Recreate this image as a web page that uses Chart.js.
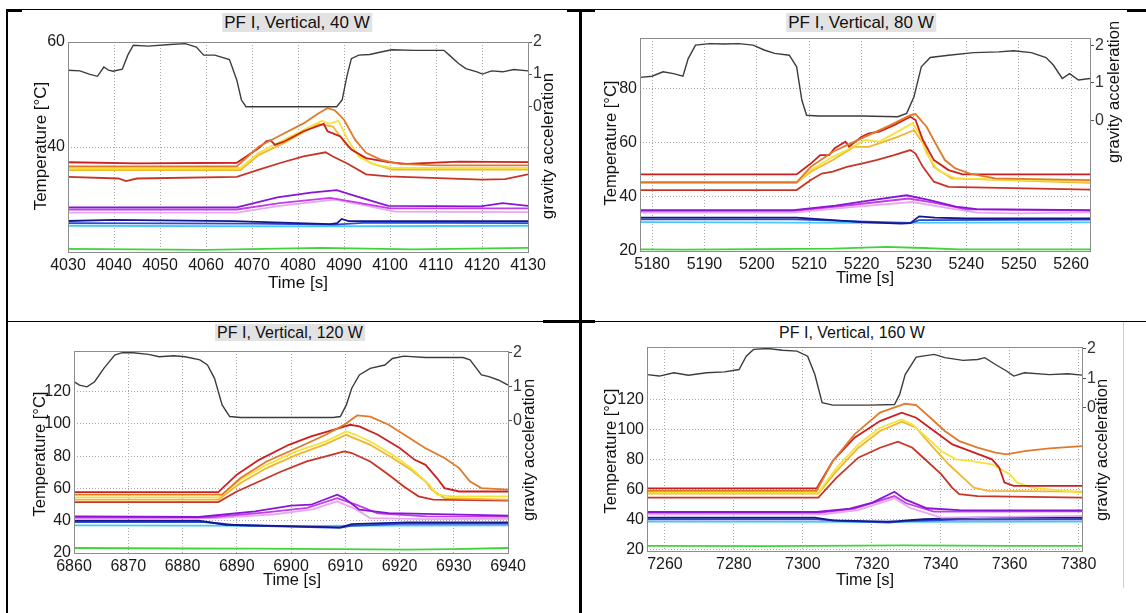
<!DOCTYPE html>
<html>
<head>
<meta charset="utf-8">
<script src="https://cdn.jsdelivr.net/npm/chart.js@4.4.1/dist/chart.umd.min.js"></script>
<style>
  body { margin: 0; background: #fff; width: 1146px; height: 613px; overflow: hidden; position: relative;
         font-family: "Liberation Sans", Arial, sans-serif; }
  canvas { position: absolute; }
  .rule { position: absolute; background: #000; }
  .ttl { position: absolute; white-space: nowrap; transform: translateX(-50%); color: #111; padding: 0 2px; }
  .ttl.box { background: #e2e2e2; }
</style>
</head>
<body>
<div class="rule" style="left:7px;top:9px;width:1139px;height:1px"></div>
<div class="rule" style="left:7px;top:9px;width:15px;height:3px"></div>
<div class="rule" style="left:567px;top:9px;width:28px;height:3px"></div>
<div class="rule" style="left:1127px;top:9px;width:19px;height:3px"></div>
<div class="rule" style="left:7px;top:321px;width:1139px;height:1px"></div>
<div class="rule" style="left:543px;top:320px;width:52px;height:3px"></div>
<div class="rule" style="left:6px;top:9px;width:2px;height:604px"></div>
<div class="rule" style="left:579px;top:9px;width:3px;height:604px"></div>
<div class="rule" style="left:1123px;top:322px;width:1px;height:266px;background:#cfcfcf"></div>

<div class="ttl box" style="left:297px;top:13px;font-size:17px;line-height:19px">PF I, Vertical, 40 W</div>
<div class="ttl box" style="left:861px;top:13px;font-size:17px;line-height:19px">PF I, Vertical, 80 W</div>
<div class="ttl box" style="left:290px;top:324px;font-size:16px;line-height:17px">PF I, Vertical, 120 W</div>
<div class="ttl" style="left:852px;top:324px;font-size:16px;line-height:17px">PF I, Vertical, 160 W</div>

<canvas id="c40"></canvas>
<canvas id="c80"></canvas>
<canvas id="c120"></canvas>
<canvas id="c160"></canvas>

<script>
// ---- 40 W ----
const xTicks40 = [4030, 4040, 4050, 4060, 4070, 4080, 4090, 4100, 4110, 4120, 4130];
const tTicks40 = [40, 60];
const g40 = [[4030,1.12],[4032.6,1.10],[4034.6,1.0],[4036.4,0.93],[4037.8,1.22],[4038.8,1.12],[4039.8,1.09],[4041.8,1.15],[4043.0,1.59],[4044.2,1.90],[4047.4,1.87],[4052.2,1.92],[4055.5,1.95],[4057.9,1.84],[4059.5,1.59],[4061.9,1.59],[4065.1,1.45],[4066.7,0.81],[4067.7,0.19],[4068.7,-0.02],[4079.6,-0.02],[4088.4,-0.02],[4089.6,0.19],[4090.6,0.91],[4091.6,1.48],[4093.2,1.59],[4095.6,1.61],[4098.8,1.71],[4100.4,1.76],[4105.3,1.74],[4111.7,1.74],[4112.9,1.59],[4114.9,1.33],[4116.5,1.17],[4118.9,1.07],[4120.1,1.0],[4122.1,1.10],[4124.5,1.07],[4126.9,1.14],[4130,1.10]];
const orange40 = [[4030,36.3],[4066.7,36.3],[4071.5,40.1],[4076.3,42.3],[4081.2,44.5],[4084.4,46.4],[4086.4,47.4],[4088,47.0],[4090,45.2],[4092.4,41.4],[4094.8,38.9],[4098,37.6],[4102,36.8],[4110,36.5],[4130,36.5]];
const red40 = [[4030,37.1],[4045,36.9],[4066.7,37.0],[4071.5,39.8],[4073.1,41.1],[4074,41.3],[4075,40.4],[4077.1,41.1],[4081.2,43.0],[4085.6,44.4],[4086.4,43.0],[4087.6,42.6],[4089.2,42.0],[4091.6,39.5],[4094.8,37.9],[4099.6,37.1],[4103.6,36.8],[4115,37.2],[4130,37.1]];
const yellow40 = [[4030,36.0],[4067.5,36.0],[4071.5,38.9],[4076.3,41.1],[4082,43.6],[4085.2,45.0],[4086.8,44.4],[4088.8,45.0],[4090.8,41.4],[4093.2,38.2],[4096.4,36.7],[4100.4,36.0],[4130,36.0]];
const gold40 = [[4030,35.6],[4067.5,35.6],[4071.5,38.5],[4077.1,40.8],[4084.4,44.4],[4087.6,43.9],[4090.8,40.1],[4095.6,37.0],[4100.4,35.7],[4130,35.7]];
const darkRed40 = [[4030,34.3],[4041,34.0],[4042.6,33.5],[4045,34.0],[4066.7,34.3],[4071.5,35.7],[4076.3,37.0],[4081.2,38.2],[4086,39.0],[4087.6,38.2],[4090.8,36.8],[4094.8,34.8],[4099.6,34.4],[4120,33.8],[4125,33.9],[4130,34.8]];
const violet40 = [[4030,28.5],[4066.7,28.5],[4075.5,30.4],[4082.8,31.3],[4088.4,31.8],[4092.4,30.7],[4099.6,28.8],[4119.7,28.7],[4124.5,29.3],[4130,28.8]];
const magenta40 = [[4030,28.1],[4066.7,28.1],[4076,29.3],[4087,30.3],[4093,29.4],[4100,28.3],[4130,28.3]];
const pink40 = [[4030,27.5],[4066.7,27.5],[4076,28.8],[4088,30.0],[4094,29.0],[4101,27.7],[4130,27.6]];
const navy40 = [[4030,25.9],[4040,26.1],[4066,25.9],[4080,25.5],[4087,25.3],[4088.5,25.5],[4089.5,26.3],[4091,25.9],[4130,25.9]];
const blue40 = [[4030,25.5],[4070,25.4],[4088,25.2],[4095,25.6],[4130,25.5]];
const cyan40 = [[4030,25.0],[4080,24.9],[4130,25.0]];
const green40 = [[4030,20.6],[4060,20.4],[4085,20.8],[4105,20.5],[4130,20.8]];

// ---- 80 W ----
const xTicks80 = [5180, 5190, 5200, 5210, 5220, 5230, 5240, 5250, 5260];
const tTicks80 = [20, 40, 60, 80];
const g80 = [[5177.7,1.14],[5180,1.17],[5182.1,1.29],[5184.1,1.24],[5185.9,1.17],[5186.9,1.64],[5188.3,2.0],[5191,2.04],[5193.8,2.03],[5196.6,2.04],[5199.3,2.0],[5201.4,1.87],[5203.4,1.78],[5206.2,1.73],[5207.6,1.42],[5208.6,0.53],[5209.5,0.13],[5211.7,0.11],[5220,0.11],[5226.9,0.09],[5228.6,0.18],[5230,0.62],[5231.4,1.42],[5233.1,1.67],[5236.6,1.73],[5241.4,1.80],[5246.2,1.82],[5249,1.85],[5252.4,1.80],[5255.2,1.67],[5256.6,1.47],[5258.3,1.11],[5259.7,1.24],[5261.4,1.07],[5263.6,1.11]];
const orange80 = [[5177.7,45.4],[5207.6,45.4],[5210.3,51.1],[5214.5,56.7],[5220,61.6],[5225.5,66.5],[5229.3,70.2],[5230.3,70.6],[5232.4,65.9],[5234.1,59.8],[5235.9,53.6],[5237.9,50.5],[5240.7,48.6],[5245.5,46.8],[5263.6,46.2]];
const red80 = [[5177.7,48.3],[5207.6,48.3],[5210.3,52.3],[5212.1,55.4],[5213.8,55.4],[5214.8,57.9],[5216.9,60.4],[5217.6,58.5],[5220,62.2],[5221.4,63.5],[5223.4,64.1],[5226.2,66.5],[5229.3,69.6],[5230.3,68.4],[5231.7,61.0],[5233.8,53.6],[5236.6,49.9],[5239.3,48.3],[5263.6,48.3]];
const yellow80 = [[5177.7,45.4],[5207.6,45.4],[5210.3,49.9],[5214.5,54.8],[5217.2,57.3],[5220.7,61.0],[5223.4,60.4],[5226.9,64.1],[5229.7,67.2],[5231,63.5],[5232.4,56.0],[5234.5,49.9],[5237.9,46.8],[5263.6,45.6]];
const gold80 = [[5177.7,45.2],[5207.6,45.2],[5210.3,49.3],[5214.5,53.6],[5218.6,58.5],[5221.4,58.5],[5226.9,62.2],[5230,64.7],[5231.7,59.8],[5233.8,51.1],[5237.2,46.8],[5263.6,45.2]];
const darkRed80 = [[5177.7,42.5],[5207.6,42.5],[5210.3,46.2],[5212.4,48.6],[5214.5,49.3],[5217.2,51.1],[5220,52.3],[5222.8,53.6],[5226.2,55.4],[5229.3,57.3],[5230.3,56.0],[5231.7,51.1],[5233.8,45.6],[5236.6,43.7],[5263.6,42.7]];
const violet80 = [[5177.7,35.1],[5207,35.1],[5215,36.8],[5222,38.8],[5228.6,40.6],[5233,38.8],[5238,36.4],[5242,35.5],[5263.6,35.1]];
const magenta80 = [[5177.7,34.8],[5207,34.8],[5218,37.0],[5229,39.4],[5234,37.8],[5240,35.4],[5263.6,34.9]];
const pink80 = [[5177.7,34.2],[5207,34.2],[5218,36.2],[5229.7,38.1],[5236,36.0],[5242,34.2],[5250,33.9],[5263.6,34.3]];
const navy80 = [[5177.7,32.3],[5207.6,32.3],[5220,30.7],[5227.6,30.1],[5229.3,30.3],[5231,32.8],[5234,32.3],[5240,32.0],[5263.6,32.0]];
const blue80 = [[5177.7,31.7],[5207,31.7],[5227,30.5],[5229.5,30.4],[5231,31.4],[5263.6,31.6]];
const cyan80 = [[5177.7,30.7],[5220,30.4],[5263.6,30.6]];
const green80 = [[5177.7,20.6],[5186,20.5],[5214.5,20.9],[5224.8,21.5],[5231.7,21.1],[5238.6,20.6],[5263.6,20.6]];

// ---- 120 W ----
const xTicks120 = [6860, 6870, 6880, 6890, 6900, 6910, 6920, 6930, 6940];
const tTicks120 = [20, 40, 60, 80, 100, 120];
const g120 = [[6860,1.15],[6861,1.05],[6862.4,1.0],[6863.8,1.15],[6865.5,1.54],[6867.5,1.93],[6868.9,2.0],[6870.9,2.0],[6873.7,1.95],[6875.7,1.88],[6878.4,1.91],[6880.5,1.88],[6883.2,1.79],[6884.6,1.64],[6885.9,1.25],[6887.3,0.47],[6888.7,0.13],[6890.7,0.10],[6901,0.10],[6907.8,0.10],[6909.1,0.13],[6910.2,0.47],[6911.2,0.96],[6912.6,1.35],[6914.6,1.54],[6917.3,1.64],[6918.7,1.83],[6920.8,1.90],[6924.8,1.86],[6931.7,1.86],[6933,1.79],[6935.1,1.35],[6936.5,1.30],[6938.2,1.20],[6940,1.05]];
const orange120 = [[6860,56.1],[6887.3,56.1],[6890.7,66.4],[6895.5,76.7],[6901,84.9],[6906.4,93.2],[6909.8,99.4],[6912.2,105.2],[6914.6,104.5],[6918,99.4],[6921.4,92.2],[6924.8,84.9],[6928.3,78.8],[6931,72.6],[6933,64.3],[6935.1,60.2],[6940,59.2]];
const red120 = [[6860,57.7],[6886.6,57.7],[6890,68.5],[6894.1,77.7],[6899.6,87],[6903.7,92.2],[6907.8,96.3],[6910.9,99.4],[6912.6,98.4],[6916,93.2],[6920.1,84.9],[6922.8,77.7],[6924.8,74.6],[6926.9,66.4],[6928.3,60.2],[6931,58.1],[6940,58.1]];
const yellow120 = [[6860,54.4],[6886.6,54.4],[6890.7,65.4],[6895.5,74.6],[6901,82.9],[6906.4,89.1],[6910.2,95.3],[6911.9,93.2],[6914.6,89.1],[6918.7,80.8],[6922.1,72.6],[6924.2,66.4],[6925.5,62.3],[6926.9,56.1],[6929.7,55.1],[6940,55.1]];
const gold120 = [[6860,53],[6886.6,53],[6890.7,63.3],[6895.5,72.6],[6901,80.8],[6906.4,87.4],[6910.2,93.2],[6914.6,87],[6918.7,78.8],[6922.1,71.5],[6924.8,64.3],[6925.9,59.2],[6928.3,54],[6940,53]];
const darkRed120 = [[6860,51.5],[6886.6,51.5],[6890,58.1],[6894.1,64.3],[6898.2,70.5],[6902.9,76.7],[6906.4,79.8],[6909.8,82.9],[6911.2,81.9],[6914.6,76.7],[6918,68.5],[6920.8,61.2],[6923.5,55.1],[6926.2,53],[6940,52.4]];
const violet120 = [[6860,42.7],[6883,42.3],[6893.4,45.8],[6900,49.3],[6903.7,49.9],[6908.5,56.1],[6909.8,54],[6912.6,46.8],[6918,44.7],[6940,43.1]];
const magenta120 = [[6860,42.1],[6885,42.1],[6895,45],[6903,48],[6908.5,54],[6912,50],[6916,44.5],[6925,42.7],[6940,42.5]];
const pink120 = [[6860,41.6],[6886,41.6],[6897,44],[6904,47],[6908.5,52],[6912,47],[6914.6,41.6],[6925,41.0],[6940,41.2]];
const navy120 = [[6860,40],[6883,40],[6888,37.5],[6901,36.5],[6909.1,35.9],[6911.2,37.9],[6921.4,39],[6940,39]];
const blue120 = [[6860,39.2],[6884,39.2],[6890,37.2],[6909,35.6],[6911,36.8],[6920,38],[6940,38.2]];
const cyan120 = [[6860,37.1],[6900,36.8],[6940,37.1]];
const green120 = [[6860,23.1],[6880,22.8],[6894.1,22.7],[6921.4,22.1],[6930,22.4],[6940,23.1]];

// ---- 160 W ----
const xTicks160 = [7260, 7280, 7300, 7320, 7340, 7360, 7380];
const tTicks160 = [20, 40, 60, 80, 100, 120];
const g160 = [[7254.8,1.12],[7258.4,1.07],[7262.6,1.18],[7266.8,1.10],[7272.1,1.18],[7277.3,1.21],[7281.5,1.29],[7283.6,1.74],[7285.7,1.97],[7289.9,2.0],[7294.1,1.94],[7298.3,1.91],[7301.4,1.74],[7303.5,1.12],[7305.6,0.17],[7308.7,0.09],[7319.2,0.09],[7326.6,0.11],[7328.1,0.45],[7329.7,1.12],[7332.9,1.71],[7338.1,1.80],[7341.2,1.69],[7346.5,1.60],[7350.7,1.63],[7352.8,1.69],[7355.9,1.46],[7359.1,1.24],[7361.2,1.07],[7364.3,1.18],[7371.6,1.12],[7376.9,1.15],[7381,1.10]];
const orange160 = [[7254.8,59.2],[7304,59.2],[7308.7,79.1],[7315,96.8],[7322.4,111.2],[7329.7,117.1],[7332.9,116.2],[7337,107.8],[7341.2,99],[7345.4,92.3],[7350.7,87.9],[7355.9,84.6],[7359.1,83.5],[7364.3,85.7],[7371.6,87.5],[7381,89]];
const red160 = [[7254.8,60.9],[7304,60.9],[7308.7,79.1],[7315,94.6],[7322.4,105.6],[7328.7,111.2],[7332.9,107.8],[7338.1,99],[7343.4,90.1],[7348.6,85.7],[7354.9,80.2],[7357,74.6],[7358.5,64.7],[7361.2,62.5],[7381,62.5]];
const yellow160 = [[7254.8,58.1],[7304.5,58.1],[7309.8,74.6],[7316.1,90.1],[7322.4,101.2],[7328.7,106.7],[7331.8,103.4],[7336,94.6],[7340.2,85.7],[7344.4,80.2],[7348.6,79.1],[7354.9,76.9],[7360.1,70.2],[7362.2,64.7],[7366.4,61.4],[7381,58.1]];
const gold160 = [[7254.8,57.4],[7304.5,57.4],[7309.8,72.4],[7316.1,87.9],[7322.4,99],[7328.7,105.2],[7332.9,101.2],[7337,90.1],[7342.3,76.9],[7346.5,68],[7349.6,61.4],[7353.8,59.2],[7381,58.7]];
const darkRed160 = [[7254.8,54.7],[7304.5,54.7],[7309.8,68],[7316.1,81.3],[7322.4,87.9],[7327.6,91.9],[7331.8,87.9],[7336,79.1],[7340.2,70.2],[7343.3,61.4],[7345.4,57],[7350.7,55.8],[7381,54.7]];
const violet160 = [[7254.8,45.2],[7304,45.2],[7313.7,47.5],[7320.2,51.4],[7326.6,58.7],[7329.7,53.6],[7336,47.7],[7345.4,46.5],[7381,46.3]];
const magenta160 = [[7254.8,44.8],[7305,44.8],[7315,47.5],[7326.6,55.8],[7330,51],[7338,45.4],[7381,45.6]];
const pink160 = [[7254.8,43.7],[7306,43.7],[7316,46.5],[7326.6,54.3],[7331,48],[7340.2,41.5],[7355,42],[7381,42.6]];
const navy160 = [[7254.8,41.5],[7303.5,41.5],[7308.7,39.7],[7324.5,38.8],[7327.6,39.2],[7335,40.4],[7350.7,41.5],[7381,41.5]];
const blue160 = [[7254.8,40.4],[7304,40.4],[7312,39.2],[7325,38.2],[7330,39.2],[7345,40.2],[7381,40.4]];
const cyan160 = [[7254.8,38.8],[7320,38.6],[7381,38.8]];
const green160 = [[7254.8,22.7],[7290,22.5],[7329.7,23.1],[7360,22.7],[7381,22.7]];

const gTicks = [0, 1, 2];

const colours = {
  gravity: '#3c3c3c', orange: '#e07a2a', red: '#cc1f1f', yellow: '#f5e23a', gold: '#f0b62e',
  darkRed: '#c83526', violet: '#8a14d6', magenta: '#c23ee6', pink: '#e9a6f2',
  navy: '#15188c', blue: '#2d4ad6', cyan: '#46c8f2', green: '#3fd43a'
};

const FONT = '"Liberation Sans", Arial, sans-serif';

// plot frame plus the three axis titles, placed in page coordinates
const frameAndLabels = {
  id: 'frameAndLabels',
  afterDatasetsDraw(chart, args, opts) {
    const { ctx, chartArea: a } = chart;
    const [ox, oy] = opts.origin;
    ctx.save();
    ctx.strokeStyle = '#8c8c8c';
    ctx.lineWidth = 1;
    ctx.strokeRect(Math.round(a.left) + 0.5, Math.round(a.top) + 0.5,
                   Math.round(a.right - a.left), Math.round(a.bottom - a.top));
    ctx.fillStyle = '#111';
    ctx.font = opts.size + 'px ' + FONT;
    ctx.textAlign = 'center';
    ctx.textBaseline = 'middle';
    ctx.fillText('Time [s]', opts.xTitle[0] - ox, opts.xTitle[1] - oy);
    for (const [text, pos] of [['Temperature [°C]', opts.yTitle], ['gravity acceleration', opts.y1Title]]) {
      ctx.save();
      ctx.translate(pos[0] - ox, pos[1] - oy);
      ctx.rotate(-Math.PI / 2);
      ctx.fillText(text, 0, 0);
      ctx.restore();
    }
    ctx.restore();
  }
};

const useTicks = values => scale => { scale.ticks = values.map(value => ({ value })); };

function makePanel(p) {
  const [cx, cy, cw, ch] = p.box;
  const [pl, pt, pr, pb] = p.plot;
  const canvas = document.getElementById(p.id);
  canvas.width = cw;
  canvas.height = ch;
  canvas.style.left = cx + 'px';
  canvas.style.top = cy + 'px';

  const tickFont = { family: FONT, size: 16 };
  const dotted = { color: '#a8a8a8', lineWidth: 1, drawTicks: false };

  return new Chart(canvas, {
    type: 'line',
    data: {
      datasets: [
        { data: p.gravity, borderColor: colours.gravity, borderWidth: 1.4, yAxisID: 'y1' },
        ...p.temps.map(([data, c]) => ({ data, borderColor: colours[c], borderWidth: 1.8, yAxisID: 'y' }))
      ]
    },
    options: {
      responsive: false,
      animation: false,
      layout: { padding: { top: pt - cy, left: 0, right: 0, bottom: 0 } },
      elements: { point: { radius: 0 }, line: { tension: 0 } },
      plugins: {
        legend: { display: false },
        tooltip: { enabled: false },
        frameAndLabels: { origin: [cx, cy], size: p.labelSize, xTitle: p.xTitle, yTitle: p.yTitle, y1Title: p.y1Title }
      },
      scales: {
        x: {
          type: 'linear', min: p.xRange[0], max: p.xRange[1],
          afterBuildTicks: useTicks(p.xTicks),
          afterFit: s => { s.height = cy + ch - pb; },
          grid: dotted, border: { display: false, dash: [1, 2] },
          ticks: { font: tickFont, color: '#1a1a1a', padding: 4, maxRotation: 0, autoSkip: false, callback: v => String(v) }
        },
        y: {
          position: 'left', min: p.tRange[0], max: p.tRange[1],
          afterBuildTicks: useTicks(p.tTicks),
          afterFit: s => { s.width = pl - cx; },
          grid: dotted, border: { display: false, dash: [1, 2] },
          ticks: { font: tickFont, color: '#1a1a1a', padding: 3, callback: v => String(v) }
        },
        y1: {
          position: 'right', min: p.gRange[0], max: p.gRange[1],
          afterBuildTicks: useTicks(gTicks),
          afterFit: s => { s.width = cx + cw - pr; },
          grid: { drawOnChartArea: false, drawTicks: true, tickLength: 4, tickColor: '#555', tickWidth: 1 },
          border: { display: false },
          ticks: { font: tickFont, color: '#333', padding: 1, callback: v => String(v) }
        }
      }
    },
    plugins: [frameAndLabels]
  });
}

makePanel({
  id: 'c40', box: [9, 12, 569, 308], plot: [68, 42, 528, 252],
  xRange: [4030, 4130], tRange: [20, 60], gRange: [-4.55, 2],
  xTicks: xTicks40, tTicks: tTicks40,
  xTitle: [298, 283], yTitle: [41, 146], y1Title: [548, 146], labelSize: 17,
  gravity: g40,
  temps: [[orange40, 'orange'], [red40, 'red'], [yellow40, 'yellow'], [gold40, 'gold'], [darkRed40, 'darkRed'],
          [violet40, 'violet'], [magenta40, 'magenta'], [pink40, 'pink'],
          [navy40, 'navy'], [blue40, 'blue'], [cyan40, 'cyan'], [green40, 'green']]
});

makePanel({
  id: 'c80', box: [583, 12, 563, 308], plot: [640, 38, 1090, 251],
  xRange: [5177.7, 5263.6], tRange: [20, 98.7], gRange: [-3.49, 2.19],
  xTicks: xTicks80, tTicks: tTicks80,
  xTitle: [865, 278], yTitle: [611.5, 143], y1Title: [1114, 92], labelSize: 16.5,
  gravity: g80,
  temps: [[orange80, 'orange'], [red80, 'red'], [yellow80, 'yellow'], [gold80, 'gold'], [darkRed80, 'darkRed'],
          [violet80, 'violet'], [magenta80, 'magenta'], [pink80, 'pink'],
          [navy80, 'navy'], [blue80, 'blue'], [cyan80, 'cyan'], [green80, 'green']]
});

makePanel({
  id: 'c120', box: [9, 324, 569, 289], plot: [74, 351, 508, 553],
  xRange: [6860, 6940], tRange: [20, 145.1], gRange: [-3.87, 2.05],
  xTicks: xTicks120, tTicks: tTicks120,
  xTitle: [292, 580], yTitle: [40, 454], y1Title: [529, 450], labelSize: 16.5,
  gravity: g120,
  temps: [[orange120, 'orange'], [red120, 'red'], [yellow120, 'yellow'], [gold120, 'gold'], [darkRed120, 'darkRed'],
          [violet120, 'violet'], [magenta120, 'magenta'], [pink120, 'pink'],
          [navy120, 'navy'], [blue120, 'blue'], [cyan120, 'cyan'], [green120, 'green']]
});

makePanel({
  id: 'c160', box: [583, 324, 540, 289], plot: [647, 347, 1082, 551],
  xRange: [7254.8, 7381], tRange: [19.3, 154.8], gRange: [-4.83, 2.05],
  xTicks: xTicks160, tTicks: tTicks160,
  xTitle: [865, 580], yTitle: [611.5, 451], y1Title: [1102, 450], labelSize: 16.5,
  gravity: g160,
  temps: [[orange160, 'orange'], [red160, 'red'], [yellow160, 'yellow'], [gold160, 'gold'], [darkRed160, 'darkRed'],
          [violet160, 'violet'], [magenta160, 'magenta'], [pink160, 'pink'],
          [navy160, 'navy'], [blue160, 'blue'], [cyan160, 'cyan'], [green160, 'green']]
});
</script>
</body>
</html>
